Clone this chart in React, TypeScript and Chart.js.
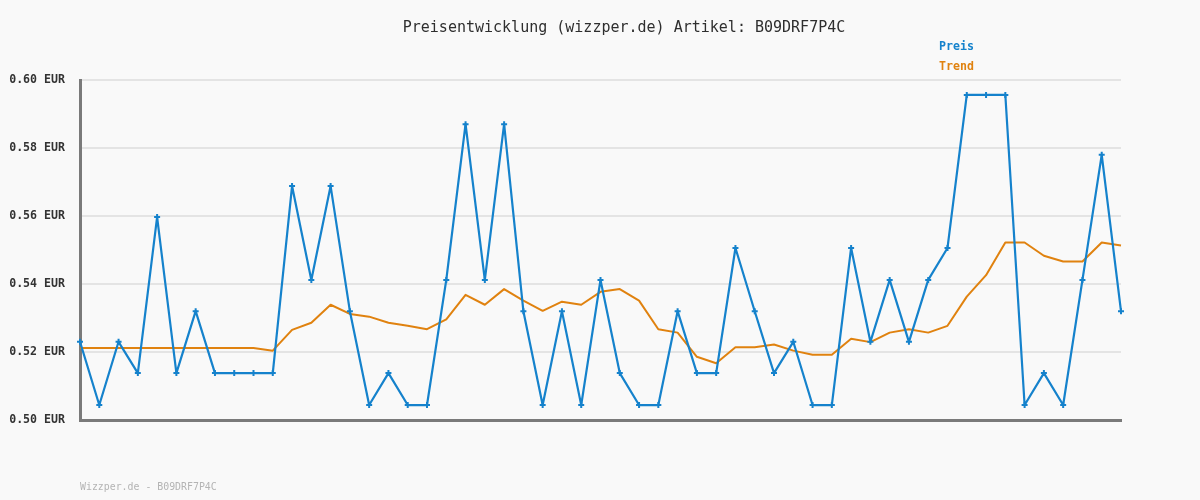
import React, { useEffect, useRef } from "react";
import { Chart, registerables } from "chart.js";

Chart.register(...registerables);

const TITLE = "Preisentwicklung (wizzper.de) Artikel: B09DRF7P4C";
const FOOTER = "Wizzper.de - B09DRF7P4C";
const SERIES_NAMES = ["Preis", "Trend"];
const COLORS = ["#1582cc", "#e0820f"];

const priceValues = [
  0.523, 0.5044, 0.523, 0.5138, 0.5597, 0.5138, 0.532, 0.5138, 0.5138, 0.5138,
  0.5138, 0.5688, 0.5412, 0.5688, 0.532, 0.5044, 0.5138, 0.5044, 0.5044, 0.5412,
  0.587, 0.5412, 0.587, 0.532, 0.5044, 0.532, 0.5044, 0.5412, 0.5138, 0.5044,
  0.5044, 0.532, 0.5138, 0.5138, 0.5506, 0.532, 0.5138, 0.523, 0.5044, 0.5044,
  0.5506, 0.523, 0.5412, 0.523, 0.5412, 0.5506, 0.5956, 0.5956, 0.5956, 0.5044,
  0.5138, 0.5044, 0.5412, 0.578, 0.532,
];

const trendValues = [
  0.5212, 0.5212, 0.5212, 0.5212, 0.5212, 0.5212, 0.5212, 0.5212, 0.5212, 0.5212,
  0.5204, 0.5265, 0.5286, 0.5339, 0.5312, 0.5304, 0.5286, 0.5277, 0.5267, 0.5296,
  0.5368, 0.5339, 0.5385, 0.5351, 0.5321, 0.5348, 0.5339, 0.5377, 0.5385, 0.5351,
  0.5267, 0.5257, 0.5186, 0.5167, 0.5214, 0.5214, 0.5222, 0.5204, 0.5192, 0.5192,
  0.5239, 0.5229, 0.5257, 0.5267, 0.5257, 0.5277, 0.5363, 0.5426, 0.5522, 0.5522,
  0.5483, 0.5466, 0.5466, 0.5522, 0.5513,
];

const categories = priceValues.map((_, i) => String(i + 1));

const Y_MIN = 0.5;
const Y_MAX = 0.6;
const Y_STEP = 0.02;

const MONO = "'DejaVu Sans Mono', 'Liberation Mono', monospace";

const textPlugin = {
  id: "textPlugin",
  afterDraw(chart: any) {
    const ctx = chart.ctx;
    ctx.save();
    ctx.textBaseline = "middle";
    ctx.fillStyle = "#2e2e2e";
    ctx.font = `15px ${MONO}`;
    ctx.textAlign = "center";
    ctx.fillText(TITLE, 624, 28);

    ctx.textAlign = "left";
    ctx.font = `bold 11.6px ${MONO}`;
    ctx.fillStyle = COLORS[0];
    ctx.fillText(SERIES_NAMES[0], 939, 47);
    ctx.fillStyle = COLORS[1];
    ctx.fillText(SERIES_NAMES[1], 939, 67);

    ctx.font = `9.9px ${MONO}`;
    ctx.fillStyle = "#b4b4b4";
    ctx.fillText(FOOTER, 80, 487);
    ctx.restore();
  },
};

const bgPlugin = {
  id: "bgPlugin",
  beforeDraw(chart: any) {
    const ctx = chart.ctx;
    ctx.save();
    ctx.fillStyle = "#f9f9f9";
    ctx.fillRect(0, 0, chart.width, chart.height);
    ctx.restore();
  },
};

export default function App() {
  const ref = useRef<HTMLCanvasElement | null>(null);

  useEffect(() => {
    document.body.style.margin = "0";
    document.body.style.background = "#f9f9f9";
    if (!ref.current) return;
    const chart = new Chart(ref.current, {
      type: "line",
      data: {
        labels: categories,
        datasets: [
          {
            label: SERIES_NAMES[1],
            data: trendValues,
            borderColor: COLORS[1],
            borderWidth: 2,
            borderJoinStyle: "round",
            pointRadius: 0,
            tension: 0,
            order: 2,
          },
          {
            label: SERIES_NAMES[0],
            data: priceValues,
            borderColor: COLORS[0],
            borderWidth: 2.2,
            borderJoinStyle: "round",
            pointStyle: "cross",
            pointRadius: 3,
            pointBorderWidth: 2,
            pointBorderColor: COLORS[0],
            pointBackgroundColor: COLORS[0],
            tension: 0,
            order: 1,
          },
        ],
      },
      options: {
        animation: false,
        responsive: false,
        maintainAspectRatio: false,
        layout: { padding: { left: 0, right: 79, top: 80, bottom: 80 } },
        plugins: {
          legend: { display: false },
          title: { display: false },
          tooltip: { enabled: false },
        },
        scales: {
          x: {
            type: "category",
            offset: false,
            grid: { display: false, drawTicks: false },
            border: { display: true, color: "#7a7a7a", width: 3 },
            ticks: { display: false },
          },
          y: {
            min: Y_MIN,
            max: Y_MAX,
            afterFit(scale: any) {
              scale.width = 80;
            },
            grid: { color: "#e4e4e4", lineWidth: 2, drawTicks: false },
            border: { display: true, color: "#7a7a7a", width: 3 },
            ticks: {
              stepSize: Y_STEP,
              padding: 15,
              color: "#333333",
              font: { family: MONO, size: 11.6, weight: "bold" },
              callback: (v: any) => Number(v).toFixed(2) + " EUR",
            },
          },
        },
      },
      plugins: [bgPlugin, textPlugin],
    });
    return () => chart.destroy();
  }, []);

  return (
    <div style={{ position: "absolute", left: 0, top: 0, width: 1200, height: 500 }}>
      <canvas ref={ref} width={1200} height={500} style={{ width: 1200, height: 500 }} />
    </div>
  );
}
